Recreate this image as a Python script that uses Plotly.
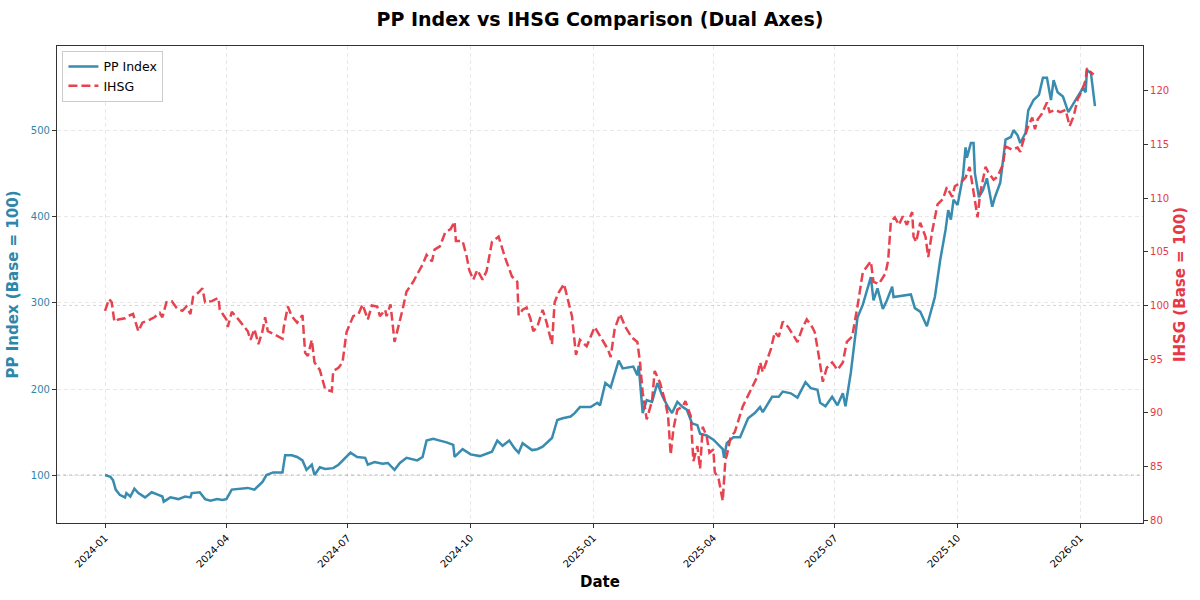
import pandas as pd
import plotly.graph_objects as go

# ---- data ----
start_date = "2024-01-01"

pp_days = [0, 4, 6, 8, 11, 15, 16, 19, 22, 25, 30, 35, 40, 43, 44, 49, 55, 60, 64, 65,
           71, 75, 79, 84, 88, 91, 95, 103, 107, 112, 118, 121, 126, 133, 135, 140, 144, 148, 151, 155,
           157, 161, 165, 171, 175, 184, 189, 195, 197, 202, 208, 212, 217, 221, 226, 234, 238, 241, 246, 251,
           256, 261, 262, 268, 274, 281, 290, 294, 298, 303, 307, 310, 313, 320, 324, 328, 335, 339, 343, 349,
           352, 356, 364, 369, 371, 375, 379, 385, 388, 396, 399, 400, 403, 406, 410, 414, 418, 422, 425, 429,
           433, 436, 440, 444, 446, 451, 456, 463, 464, 466, 471, 476, 482, 487, 491, 493, 500, 505, 508, 514,
           519, 525, 529, 534, 536, 540, 545, 549, 553, 555, 559, 564, 568, 574, 576, 579, 583, 586, 590, 591,
           598, 604, 607, 611, 616, 622, 626, 630, 632, 634, 636, 639, 643, 645, 646, 649, 651, 652, 655, 658,
           661, 665, 667, 671, 675, 679, 681, 684, 686, 690, 692, 696, 700, 703, 706, 709, 711, 714, 718, 722,
           729, 733, 735, 736, 739, 742]
pp_values = [100, 98, 94, 83, 77, 74, 79, 75, 84, 79, 74, 80, 77, 75, 69, 74, 72, 75, 74, 79,
             80, 72, 70, 72, 71, 72, 83, 84, 85, 83, 92, 100, 103, 103, 123, 123, 121, 117, 106, 112,
             100, 109, 107, 108, 112, 126, 121, 120, 112, 115, 113, 114, 106, 114, 120, 117, 121, 140, 142, 140,
             138, 135, 121, 130, 124, 122, 127, 140, 134, 140, 131, 126, 137, 129, 130, 133, 143, 164, 166, 168,
             172, 179, 179, 184, 181, 207, 202, 233, 224, 226, 216, 227, 172, 187, 185, 207, 191, 179, 172, 185,
             179, 176, 160, 158, 148, 146, 141, 130, 120, 137, 144, 144, 166, 172, 179, 173, 191, 191, 197, 195,
             190, 208, 201, 199, 184, 180, 191, 181, 195, 180, 219, 283, 298, 330, 303, 317, 293, 303, 319, 307,
             309, 310, 294, 290, 273, 307, 350, 385, 408, 397, 420, 414, 447, 481, 469, 486, 486, 451, 423, 431,
             445, 412, 423, 440, 490, 493, 501, 495, 486, 498, 524, 536, 542, 562, 562, 536, 559, 545, 540, 522,
             540, 550, 545, 571, 567, 529]

ihsg_days = [0, 3, 5, 7, 10, 15, 17, 21, 25, 28, 34, 37, 41, 43, 46, 50, 54, 58, 61, 64,
             66, 70, 73, 75, 80, 85, 86, 91, 92, 95, 100, 103, 107, 109, 112, 115, 118, 120, 122, 127,
             133, 134, 137, 140, 144, 148, 150, 152, 155, 157, 161, 165, 170, 171, 175, 178, 181, 186, 190, 193,
             197, 200, 204, 206, 210, 211, 214, 217, 220, 223, 226, 231, 234, 238, 241, 245, 247, 251, 255, 259,
             262, 263, 268, 271, 273, 276, 279, 283, 286, 290, 295, 300, 305, 309, 310, 313, 316, 319, 321, 324,
             328, 331, 335, 337, 340, 344, 350, 353, 356, 361, 367, 373, 377, 379, 382, 386, 390, 395, 399, 401,
             403, 406, 410, 412, 416, 420, 422, 424, 426, 429, 433, 435, 439, 441, 444, 446, 448, 451, 453, 456,
             457, 460, 463, 465, 466, 469, 472, 478, 484, 489, 491, 493, 499, 502, 505, 508, 512, 519, 523, 526,
             530, 532, 535, 538, 541, 545, 549, 553, 556, 560, 564, 568, 574, 576, 580, 585, 587, 589, 592, 595,
             598, 601, 605, 606, 608, 611, 615, 617, 620, 624, 628, 631, 635, 637, 641, 645, 648, 651, 654, 656,
             660, 662, 666, 669, 673, 675, 680, 684, 686, 688, 692, 695, 697, 699, 702, 706, 708, 712, 716, 720,
             723, 726, 729, 732, 735, 736, 738, 741]
ihsg_values = [99.5, 100.6, 100.3, 98.5, 98.7, 98.8, 99.0, 99.2, 97.6, 98.4, 98.7, 98.9, 99.3, 98.9, 100.3, 100.4, 99.7, 99.5, 99.9, 99.2,
               100.8, 101.2, 101.6, 100.3, 100.4, 100.7, 99.6, 98.7, 98.0, 99.4, 98.7, 98.2, 97.6, 96.8, 97.8, 96.4, 97.6, 98.9, 97.6, 97.3,
               96.9, 98.0, 99.9, 99.0, 98.4, 99.1, 95.6, 95.3, 96.8, 94.7, 94.0, 92.2, 92.0, 93.9, 94.2, 94.7, 97.5, 99.0, 99.2, 100.1,
               98.7, 100.0, 99.9, 99.0, 99.6, 99.0, 100.1, 96.6, 98.0, 99.6, 101.3, 102.2, 102.9, 103.8, 104.7, 104.1, 105.2, 105.5, 106.8, 107.1,
               107.8, 106.0, 106.0, 104.6, 103.3, 102.4, 103.3, 102.4, 103.2, 105.9, 106.4, 104.4, 102.7, 102.2, 99.1, 99.6, 99.8, 98.7, 97.6, 98.0,
               99.6, 98.4, 96.4, 100.3, 101.2, 102.0, 99.0, 95.4, 96.8, 96.2, 98.0, 96.7, 95.9, 95.2, 97.8, 99.2, 98.0, 97.0, 96.6, 94.7,
               91.9, 89.4, 91.1, 93.9, 92.8, 91.0, 89.7, 86.1, 88.5, 90.3, 90.6, 91.1, 89.7, 85.5, 86.9, 84.8, 88.7, 87.8, 86.3, 86.6,
               84.5, 83.8, 81.8, 85.7, 86.0, 87.8, 88.2, 90.6, 92.2, 93.4, 94.7, 93.8, 95.9, 97.5, 97.1, 98.5, 98.0, 96.6, 98.0, 98.7,
               98.0, 97.5, 95.3, 92.9, 94.2, 94.7, 94.0, 94.7, 96.6, 97.1, 99.9, 103.1, 104.1, 102.2, 102.0, 103.0, 104.2, 107.8, 108.2, 107.5,
               108.3, 107.5, 108.7, 106.4, 105.9, 107.7, 106.4, 104.5, 106.9, 109.4, 109.9, 111.0, 110.1, 111.1, 111.4, 111.9, 112.9, 110.5, 108.2, 110.5,
               112.9, 112.4, 111.7, 112.0, 113.1, 114.8, 114.5, 114.7, 114.3, 115.2, 116.7, 117.5, 116.4, 117.3, 117.8, 118.9, 118.0, 118.2, 118.0, 118.2,
               116.7, 117.6, 119.2, 119.9, 121.0, 122.1, 121.8, 121.5]

x_tick_dates = ["2024-01-01", "2024-04-01", "2024-07-01", "2024-10-01", "2025-01-01",
                "2025-04-01", "2025-07-01", "2025-10-01", "2026-01-01"]
x_tick_labels = ["2024-01", "2024-04", "2024-07", "2024-10", "2025-01",
                 "2025-04", "2025-07", "2025-10", "2026-01"]
pp_ticks = [100, 200, 300, 400, 500]
ihsg_ticks = [80, 85, 90, 95, 100, 105, 110, 115, 120]

# ---- build ----
base = pd.Timestamp(start_date)
pp_dates = base + pd.to_timedelta(pp_days, unit="D")
ihsg_dates = base + pd.to_timedelta(ihsg_days, unit="D")

BLUE = "#2E86AB"
RED = "#E63946"
FONT = "DejaVu Sans"
GRID = "rgba(0,0,0,0.09)"

fig = go.Figure()
fig.add_trace(go.Scatter(x=pp_dates, y=pp_values, name="PP Index", mode="lines",
                         line=dict(color=BLUE, width=2.5), opacity=0.95, yaxis="y"))
fig.add_trace(go.Scatter(x=ihsg_dates, y=ihsg_values, name="IHSG", mode="lines",
                         line=dict(color=RED, width=2.5, dash="9px,4px"), opacity=0.95, yaxis="y2"))

# reference lines at base 100
fig.add_shape(type="line", xref="paper", x0=0, x1=1, yref="y", y0=100, y1=100,
              line=dict(color="rgba(128,128,128,0.5)", width=1, dash="dot"), layer="below")
fig.add_shape(type="line", xref="paper", x0=0, x1=1, yref="y2", y0=100, y1=100,
              line=dict(color="rgba(230,57,70,0.3)", width=1, dash="dot"), layer="below")

fig.update_layout(
    width=1200, height=600,
    margin=dict(l=57, r=57, t=46, b=77),
    paper_bgcolor="white", plot_bgcolor="white",
    font=dict(family=FONT, color="#000"),
    title=dict(text="<b>PP Index vs IHSG Comparison (Dual Axes)</b>", x=0.5, xref="paper",
               xanchor="center", y=1 - 19 / 600, yanchor="middle",
               font=dict(size=19, family=FONT, color="#000")),
    showlegend=True,
    legend=dict(x=0.005, y=0.99, xanchor="left", yanchor="top",
                bgcolor="rgba(255,255,255,0.8)", bordercolor="#cccccc", borderwidth=1,
                font=dict(size=12.5, family=FONT), tracegroupgap=2),
    xaxis=dict(
        type="date", range=["2023-11-26", "2026-02-17"],
        tickvals=x_tick_dates, ticktext=x_tick_labels, tickangle=-45,
        tickfont=dict(size=10, family=FONT, color="#000"),
        ticks="outside", ticklen=4, tickcolor="#333",
        showline=True, linecolor="#333", linewidth=1.2, mirror=True,
        showgrid=True, gridcolor=GRID, griddash="4px,3px", gridwidth=0.8,
        zeroline=False,
        title=dict(text="<b>Date</b>", font=dict(size=15, family=FONT, color="#000"), standoff=7),
    ),
    yaxis=dict(
        range=[44.2, 598.8], tickvals=pp_ticks,
        tickfont=dict(size=10, family=FONT, color=BLUE),
        ticks="outside", ticklen=4, tickcolor="#333",
        showline=True, linecolor="#333", linewidth=1.2,
        showgrid=True, gridcolor=GRID, griddash="4px,3px", gridwidth=0.8,
        zeroline=False,
        title=dict(text="<b>PP Index (Base = 100)</b>", font=dict(size=15, family=FONT, color=BLUE), standoff=8),
    ),
    yaxis2=dict(
        overlaying="y", side="right", anchor="x",
        range=[79.75, 124.15], tickvals=ihsg_ticks,
        tickfont=dict(size=10, family=FONT, color=RED),
        ticks="outside", ticklen=4, tickcolor="#333",
        showline=True, linecolor="#333", linewidth=1.2,
        showgrid=False, zeroline=False,
        title=dict(text="<b>IHSG (Base = 100)</b>", font=dict(size=15, family=FONT, color=RED), standoff=6),
    ),
)

fig.write_html("out.html")
